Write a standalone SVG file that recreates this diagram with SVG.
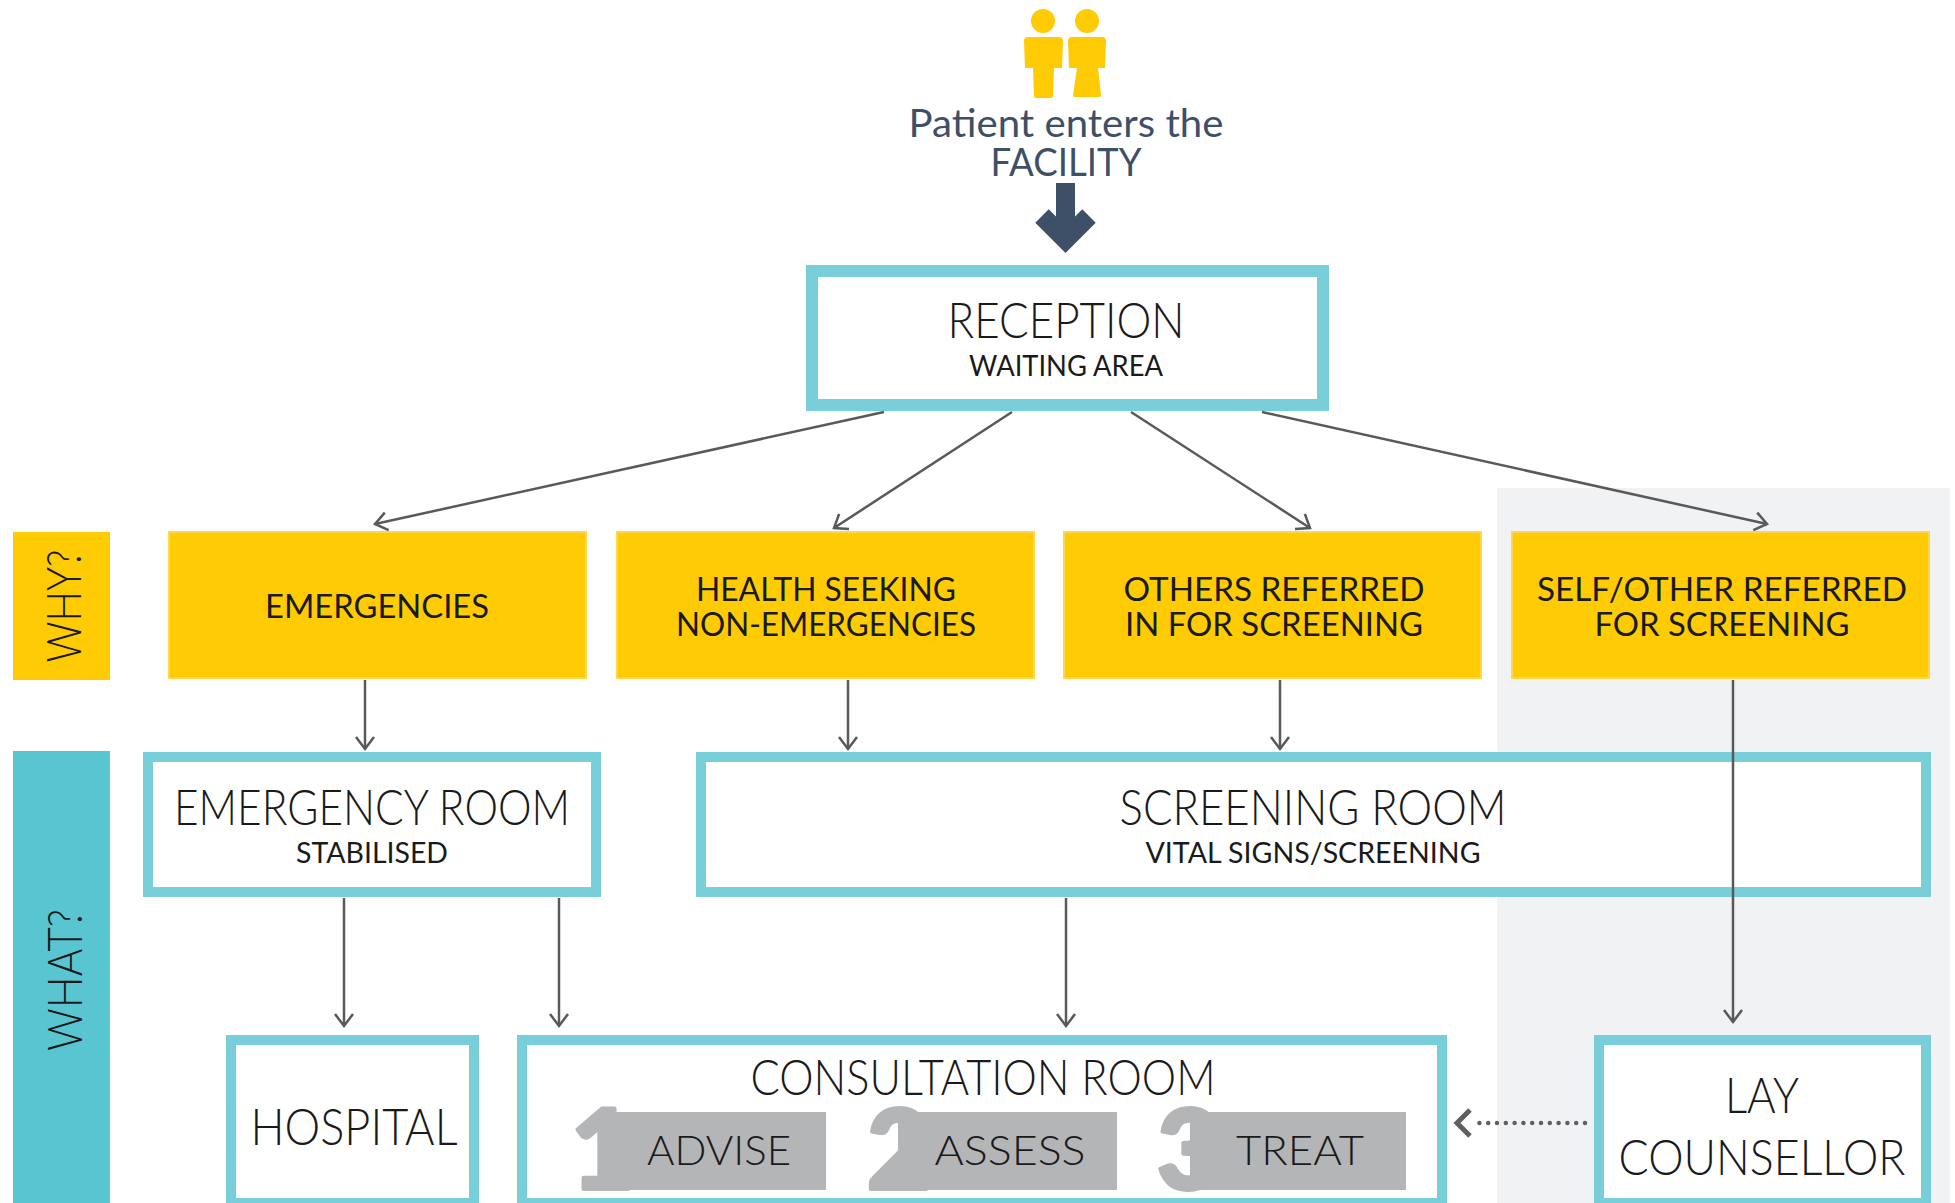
<svg xmlns="http://www.w3.org/2000/svg" width="1955" height="1203" viewBox="0 0 1955 1203">
<defs>
<style>
.room{fill:#ffffff;stroke:#79CFD9;stroke-width:10}
.why{fill:#FFCB05;stroke:#FFD64D;stroke-width:2}
.conn{fill:none;stroke:#595959;stroke-width:2.5}
.t{font-family:Lato,"Liberation Sans",sans-serif;fill:#1a1a1a;text-anchor:middle}
.lt{font-weight:300}
.rg{font-weight:400}
.step{fill:#B4B5B7}
.dig{font-family:Lato,"Liberation Sans",sans-serif;font-weight:900;fill:#B4B5B7;stroke:#B4B5B7;stroke-width:4;stroke-linejoin:round;font-size:110px}
</style>
<marker id="ah" markerUnits="userSpaceOnUse" markerWidth="30" markerHeight="30" viewBox="-15 -15 30 30" refX="0" refY="0" orient="auto" overflow="visible">
<path d="M-12,-9 L0,0 L-12,9" fill="none" stroke="#595959" stroke-width="2.5"/>
</marker>
</defs>
<rect width="1955" height="1203" fill="#ffffff"/>
<rect id="lay-panel" x="1497" y="488" width="453" height="715" fill="#F1F2F4"/>

<g id="patient">
<circle cx="1043" cy="21" r="12" fill="#FFCB05"/>
<circle cx="1087" cy="21" r="12" fill="#FFCB05"/>
<path d="M1028,37 H1059 Q1063,37 1063,41 L1062,68 H1054 L1053,96 Q1053,98 1051,98 H1036 Q1034,98 1034,96 L1033,68 H1025 L1024,41 Q1024,37 1028,37 Z" fill="#FFCB05"/>
<path d="M1072,37 H1102 Q1106,37 1106,41 L1105,68 H1098 L1101,95 Q1101,97 1099,97 H1075 Q1073,97 1073,95 L1077,68 H1069 L1068,41 Q1068,37 1072,37 Z" fill="#FFCB05"/>
<text class="t rg" x="1066" y="137" font-size="38" style="fill:#3E5068" textLength="315" lengthAdjust="spacingAndGlyphs">Patient enters the</text>
<text class="t rg" x="1066" y="176" font-size="38" style="fill:#3E5068" textLength="151" lengthAdjust="spacingAndGlyphs">FACILITY</text>
<rect x="1056" y="183" width="19" height="45" fill="#3E5068"/>
<polyline points="1042,216 1065.5,239.5 1089,216" fill="none" stroke="#3E5068" stroke-width="19"/>
</g>

<g id="reception">
<rect x="812" y="271" width="511" height="134" fill="#ffffff" stroke="#79CFD9" stroke-width="12"/>
<text class="t lt" x="1066" y="338" font-size="49" textLength="237" lengthAdjust="spacingAndGlyphs">RECEPTION</text>
<text class="t rg" x="1066" y="376" font-size="28" textLength="194" lengthAdjust="spacingAndGlyphs">WAITING AREA</text>
</g>

<g id="why-label">
<rect x="13" y="532" width="97" height="148" fill="#FFCB05"/>
<text class="t lt" transform="translate(81,606) rotate(-90)" font-size="47" textLength="113" lengthAdjust="spacingAndGlyphs">WHY?</text>
</g>
<g id="what-label">
<rect x="13" y="751" width="97" height="452" fill="#59C5D0"/>
<text class="t lt" transform="translate(82,980) rotate(-90)" font-size="47" textLength="142" lengthAdjust="spacingAndGlyphs">WHAT?</text>
</g>

<g id="emergencies">
<rect class="why" x="169" y="532" width="417" height="146"/>
<text class="t rg" x="377" y="618" font-size="33" textLength="224" lengthAdjust="spacingAndGlyphs">EMERGENCIES</text>
</g>
<g id="health-seeking">
<rect class="why" x="617" y="532" width="417" height="146"/>
<text class="t rg" x="826" y="601" font-size="33" textLength="260" lengthAdjust="spacingAndGlyphs">HEALTH SEEKING</text>
<text class="t rg" x="826" y="636" font-size="33" textLength="300" lengthAdjust="spacingAndGlyphs">NON-EMERGENCIES</text>
</g>
<g id="others-referred">
<rect class="why" x="1064" y="532" width="417" height="146"/>
<text class="t rg" x="1274" y="601" font-size="33" textLength="301" lengthAdjust="spacingAndGlyphs">OTHERS REFERRED</text>
<text class="t rg" x="1274" y="636" font-size="33" textLength="298" lengthAdjust="spacingAndGlyphs">IN FOR SCREENING</text>
</g>
<g id="self-referred">
<rect class="why" x="1512" y="532" width="417" height="146"/>
<text class="t rg" x="1722" y="601" font-size="33" textLength="370" lengthAdjust="spacingAndGlyphs">SELF/OTHER REFERRED</text>
<text class="t rg" x="1722" y="636" font-size="33" textLength="255" lengthAdjust="spacingAndGlyphs">FOR SCREENING</text>
</g>

<g id="emergency-room">
<rect class="room" x="148" y="757" width="448" height="135"/>
<text class="t lt" x="372" y="825" font-size="49" textLength="396" lengthAdjust="spacingAndGlyphs">EMERGENCY ROOM</text>
<text class="t rg" x="372" y="863" font-size="28" textLength="152" lengthAdjust="spacingAndGlyphs">STABILISED</text>
</g>
<g id="screening-room">
<rect class="room" x="701" y="757" width="1225" height="135"/>
<text class="t lt" x="1313" y="825" font-size="49" textLength="387" lengthAdjust="spacingAndGlyphs">SCREENING ROOM</text>
<text class="t rg" x="1313" y="863" font-size="28" textLength="335" lengthAdjust="spacingAndGlyphs">VITAL SIGNS/SCREENING</text>
</g>

<g id="hospital">
<rect class="room" x="231" y="1040" width="243" height="163"/>
<text class="t lt" x="354" y="1145" font-size="51" textLength="207" lengthAdjust="spacingAndGlyphs">HOSPITAL</text>
</g>
<g id="consultation-room">
<rect class="room" x="522" y="1040" width="920" height="163"/>
<text class="t lt" x="983" y="1095" font-size="49" textLength="465" lengthAdjust="spacingAndGlyphs">CONSULTATION ROOM</text>
<g id="advise">
<rect class="step" x="606" y="1112" width="220" height="78"/>
<text class="dig" x="571" y="1189">1</text>
<text class="t lt" x="719" y="1165" font-size="42" textLength="144" lengthAdjust="spacingAndGlyphs">ADVISE</text>
</g>
<g id="assess">
<rect class="step" x="898" y="1112" width="219" height="78"/>
<text class="dig" x="867" y="1189">2</text>
<text class="t lt" x="1010" y="1165" font-size="42" textLength="151" lengthAdjust="spacingAndGlyphs">ASSESS</text>
</g>
<g id="treat">
<rect class="step" x="1190" y="1112" width="216" height="78"/>
<text class="dig" x="1157" y="1189">3</text>
<text class="t lt" x="1300" y="1165" font-size="42" textLength="128" lengthAdjust="spacingAndGlyphs">TREAT</text>
</g>
</g>
<g id="lay-counsellor">
<rect class="room" x="1599" y="1040" width="327" height="163"/>
<text class="t lt" x="1762" y="1113" font-size="50" textLength="74" lengthAdjust="spacingAndGlyphs">LAY</text>
<text class="t lt" x="1762" y="1175" font-size="50" textLength="287" lengthAdjust="spacingAndGlyphs">COUNSELLOR</text>
</g>

<g id="connectors">
<line class="conn" x1="884" y1="412" x2="375" y2="524" marker-end="url(#ah)"/>
<line class="conn" x1="1012" y1="412" x2="834" y2="528" marker-end="url(#ah)"/>
<line class="conn" x1="1131" y1="412" x2="1310" y2="528" marker-end="url(#ah)"/>
<line class="conn" x1="1262" y1="412" x2="1767" y2="524" marker-end="url(#ah)"/>
<line class="conn" x1="365" y1="680" x2="365" y2="749" marker-end="url(#ah)"/>
<line class="conn" x1="848" y1="680" x2="848" y2="749" marker-end="url(#ah)"/>
<line class="conn" x1="1280" y1="680" x2="1280" y2="749" marker-end="url(#ah)"/>
<line class="conn" x1="1733" y1="680" x2="1733" y2="1022" marker-end="url(#ah)"/>
<line class="conn" x1="344" y1="898" x2="344" y2="1026" marker-end="url(#ah)"/>
<line class="conn" x1="559" y1="898" x2="559" y2="1026" marker-end="url(#ah)"/>
<line class="conn" x1="1066" y1="898" x2="1066" y2="1026" marker-end="url(#ah)"/>
<line x1="1585" y1="1123" x2="1474" y2="1123" stroke="#5F6062" stroke-width="4.5" stroke-linecap="round" stroke-dasharray="0 8.8"/>
<polyline points="1470,1110 1457,1123 1470,1136" fill="none" stroke="#5F6062" stroke-width="5"/>
</g>
</svg>
